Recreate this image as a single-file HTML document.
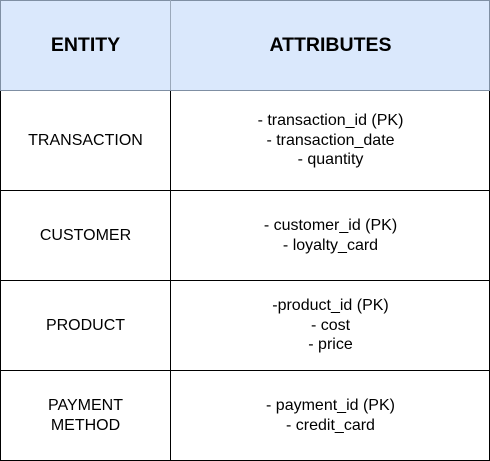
<!DOCTYPE html>
<html><head><style>
body{margin:0;width:490px;height:461px;background:#fff;position:relative;font-family:"Liberation Sans",Arial,sans-serif;}
.c{position:absolute;display:flex;align-items:center;justify-content:center;text-align:center;font-size:16px;line-height:19.5px;color:#000;box-sizing:border-box;}
.h{background:#dae8fc;font-weight:bold;font-size:19.5px;}
.l{position:absolute;background:#000;}
</style></head><body>
<div class="c h" style="left:0;top:0;width:490px;height:91px;"></div>
<div class="c h" style="left:0;top:0;width:171px;height:91px;">ENTITY</div>
<div class="c h" style="left:171px;top:0;width:319px;height:91px;">ATTRIBUTES</div>
<div class="l" style="left:0;top:0;width:490px;height:1px;background:#7f8fa3"></div>
<div class="l" style="left:0;top:0;width:1px;height:91px;background:#7f8fa3"></div>
<div class="l" style="left:489px;top:0;width:1px;height:91px;background:#7f8fa3"></div>
<div class="l" style="left:170px;top:0;width:1px;height:91px;background:#9aa8ba"></div>
<div class="l" style="left:0;top:90px;width:490px;height:1px;background:#7f8fa3"></div>

<div class="l" style="left:0;top:91px;width:1px;height:370px"></div>
<div class="l" style="left:489px;top:91px;width:1px;height:370px"></div>
<div class="l" style="left:170px;top:91px;width:1px;height:370px"></div>
<div class="l" style="left:0;top:190px;width:490px;height:1px"></div>
<div class="l" style="left:0;top:280px;width:490px;height:1px"></div>
<div class="l" style="left:0;top:370px;width:490px;height:1px"></div>
<div class="l" style="left:0;top:460px;width:490px;height:1px"></div>

<div class="c" style="left:0;top:91px;width:171px;height:99px;">TRANSACTION</div>
<div class="c" style="left:171px;top:91px;width:319px;height:99px;">- transaction_id (PK)<br>- transaction_date<br>- quantity</div>
<div class="c" style="left:0;top:191px;width:171px;height:89px;">CUSTOMER</div>
<div class="c" style="left:171px;top:191px;width:319px;height:89px;">- customer_id (PK)<br>- loyalty_card</div>
<div class="c" style="left:0;top:281px;width:171px;height:89px;">PRODUCT</div>
<div class="c" style="left:171px;top:281px;width:319px;height:89px;">-product_id (PK)<br>- cost<br>- price</div>
<div class="c" style="left:0;top:371px;width:171px;height:89px;">PAYMENT<br>METHOD</div>
<div class="c" style="left:171px;top:371px;width:319px;height:89px;">- payment_id (PK)<br>- credit_card</div>
</body></html>
